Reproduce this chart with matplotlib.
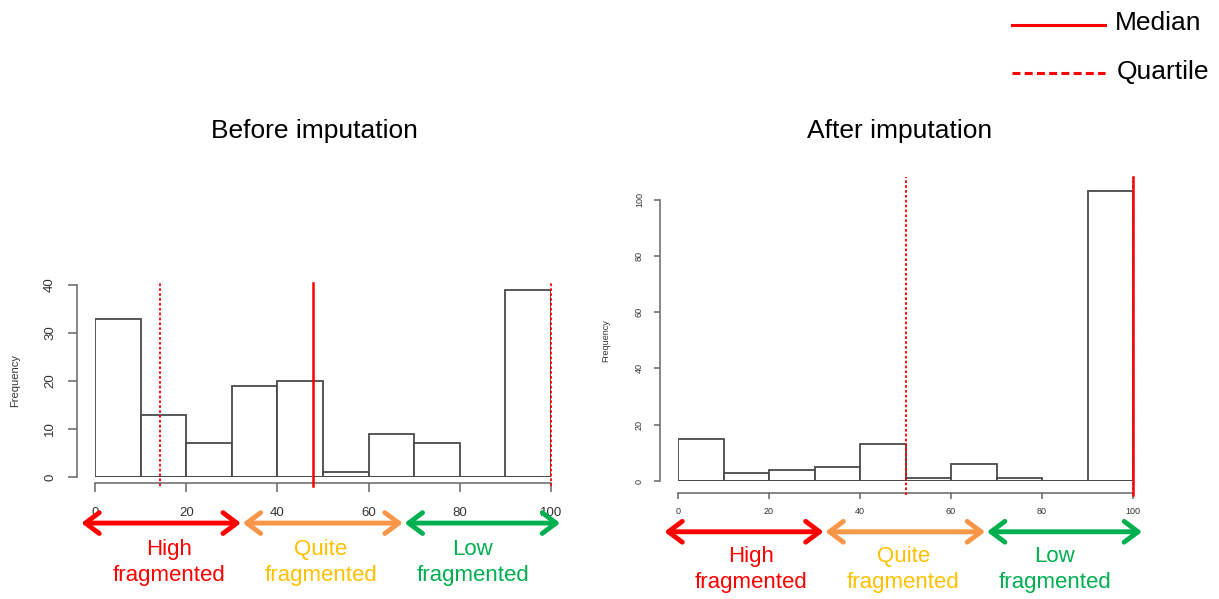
import matplotlib
matplotlib.use("Agg")
import matplotlib.pyplot as plt
import numpy as np

plt.rcParams["font.family"] = ["Liberation Sans", "DejaVu Sans"]

# histogram bins (percentage of non-fragmented records)
bin_edges = [0, 10, 20, 30, 40, 50, 60, 70, 80, 90, 100]
before_counts = [33, 13, 7, 19, 20, 1, 9, 7, 0, 39]
after_counts = [15, 3, 4, 5, 13, 1, 6, 1, 0, 103]

before_quartiles = [14.3, 100]
before_median = 47.8
after_quartiles = [50, 100]
after_median = 100

# fragmentation classes shown under the x axis
class_labels = ["High\nfragmented", "Quite\nfragmented", "Low\nfragmented"]
class_bounds = [0, 33.3, 66.7, 100]
arrow_colors = ["#FF0000", "#F79646", "#00B050"]
text_colors = ["#FF0000", "#FFC000", "#00B050"]
# arrow extents around each class, in x units (small gaps between arrows)
arrow_spans = [(-3, 32), (32.4, 67.5), (67.9, 102)]

W, H = 1219, 599
fig = plt.figure(figsize=(W / 100, H / 100), dpi=100)
PT = 72 / 100  # pixels -> points


def px_axes(x0, x1, y_bottom, y_top):
    return fig.add_axes([x0 / W, 1 - y_bottom / H, (x1 - x0) / W, (y_bottom - y_top) / H])


def draw_hist(ax, counts, ymax, yticks, quartiles, median, tick_fs, y_out, x_out,
              tick_len, xpad, ypad, line_top, line_bottom, arrow_y, text_y):
    ax.bar(bin_edges[:-1], counts, width=np.diff(bin_edges), align="edge",
           facecolor="white", edgecolor="#4a4a4a", linewidth=1.3, zorder=2)
    ax.plot([bin_edges[0], bin_edges[-1]], [0, 0], color="#4a4a4a", lw=1.3, zorder=2)
    ax.set_xlim(0, 100)
    ax.set_ylim(0, ymax)
    for s in ("top", "right"):
        ax.spines[s].set_visible(False)
    ax.spines["left"].set_position(("outward", y_out * PT))
    ax.spines["bottom"].set_position(("outward", x_out * PT))
    ax.spines["left"].set_bounds(yticks[0], yticks[-1])
    ax.spines["bottom"].set_bounds(0, 100)
    for s in ("left", "bottom"):
        ax.spines[s].set_color("#666666")
        ax.spines[s].set_linewidth(1.1)
    ax.set_yticks(yticks)
    ax.set_xticks([0, 20, 40, 60, 80, 100])
    ax.tick_params(colors="#666666", labelcolor="#333333", labelsize=tick_fs,
                   length=tick_len * PT, width=1.1)
    ax.tick_params(axis="x", pad=xpad * PT)
    ax.tick_params(axis="y", pad=ypad * PT)
    for lab in ax.get_yticklabels():
        lab.set_rotation(90)
        lab.set_va("center")
    trans = ax.get_xaxis_transform()
    for q in quartiles:
        ax.plot([q, q], [line_bottom, line_top], transform=trans, color="#FF0000",
                linestyle=(0, (1.5, 1.2)), linewidth=1.3, clip_on=False, zorder=3)
    ax.plot([median, median], [line_bottom, line_top], transform=trans, color="#FF0000",
            linewidth=1.8, clip_on=False, zorder=3)
    # class arrows and labels
    for i, lab in enumerate(class_labels):
        a, b = class_bounds[i], class_bounds[i + 1]
        s0, s1 = arrow_spans[i]
        ax.annotate("", xy=(s1, arrow_y), xytext=(s0, arrow_y),
                    xycoords=trans, textcoords=trans, annotation_clip=False,
                    arrowprops=dict(arrowstyle="<->,head_length=1.0,head_width=0.75",
                                    mutation_scale=10, color=arrow_colors[i], lw=3.5,
                                    shrinkA=0, shrinkB=0))
        ax.text((a + b) / 2 - 0.5, text_y, lab, transform=trans, ha="center",
                va="center", color=text_colors[i], fontsize=16, linespacing=1.3)


# left panel: 0..100 -> x 95..551, 0..40 -> y 477..285
ax1 = px_axes(95, 551, 477, 285)
draw_hist(ax1, before_counts, 40, [0, 10, 20, 30, 40], before_quartiles, before_median,
          9.5, 18, 6, 9, 15, 12, 1.01, -0.045, -0.24, -0.445)
ax1.set_ylabel("Frequency", fontsize=8, color="#333333")
ax1.yaxis.set_label_coords(-0.165, 0.505)
fig.text(314 / W, 1 - 131 / H, "Before imputation", ha="center", va="center", fontsize=19)

# right panel: 0..100 -> x 678..1133, 0..108 -> y 481..177
ax2 = px_axes(678, 1133, 481, 177)
draw_hist(ax2, after_counts, 108, [0, 20, 40, 60, 80, 100], after_quartiles, after_median,
          6.5, 18, 12, 6, 8, 10, 1.0, -0.045, -0.167, -0.292)
ax2.set_ylabel("Frequency", fontsize=6.5, color="#333333")
ax2.yaxis.set_label_coords(-0.149, 0.463)
fig.text(900 / W, 1 - 131 / H, "After imputation", ha="center", va="center", fontsize=19)

# legend for the reference lines
fig.add_artist(plt.Line2D([1012 / W, 1105 / W], [1 - 25 / H, 1 - 25 / H],
                          color="#FF0000", lw=2.2))
fig.add_artist(plt.Line2D([1012 / W, 1105 / W], [1 - 73 / H, 1 - 73 / H],
                          color="#FF0000", lw=2.2, linestyle=(0, (2.6, 1.4))))
fig.text(1115 / W, 1 - 23 / H, "Median", ha="left", va="center", fontsize=19)
fig.text(1117 / W, 1 - 72 / H, "Quartile", ha="left", va="center", fontsize=19)

fig.savefig("out.png", dpi=100)
